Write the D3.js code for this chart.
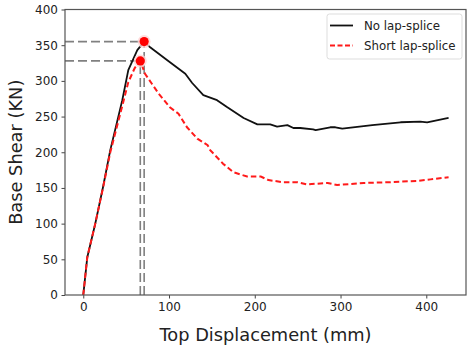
<!DOCTYPE html>
<html>
<head>
<meta charset="utf-8">
<script src="https://cdn.jsdelivr.net/npm/d3@7/dist/d3.min.js"></script>
<style>
  html, body { margin: 0; padding: 0; background: #fff; }
  svg { display: block; }
  text { font-family: "DejaVu Sans", sans-serif; }
</style>
</head>
<body>
<svg id="chart" width="472" height="350"></svg>
<script>
// Pushover curves: top displacement (mm) vs base shear (kN)
const noLapDisp  = [0, 4.7, 14, 23, 31.5, 45.5, 52.5, 63, 71, 78, 98, 119, 127, 140, 156, 168, 187, 203, 218, 226, 238, 245, 253, 268, 271, 288, 294, 302, 337, 370, 393, 401, 426];
const noLapShear = [0, 53, 100, 151, 203, 273, 315, 343, 355, 347, 329, 310, 297, 280, 273, 263, 248, 239, 239, 236, 238, 234, 234, 232, 231, 235, 235, 233, 238, 242, 243, 242, 248];

const shortDisp  = [0, 4.7, 14, 23, 31.5, 45.5, 52.5, 60, 66.5, 72, 80, 88, 101, 111, 121, 133, 145, 148, 163, 175, 191, 207, 216, 233, 250, 261, 285, 296, 327, 358, 390, 405, 426];
const shortShear = [0, 53, 100, 150, 200, 265, 298, 318, 328, 310, 296, 282, 263, 254, 235, 219, 210, 203, 184, 172, 166, 166, 161, 158, 158, 155, 157, 154, 157, 158, 160, 162, 165];

// Peak points highlighted with guide lines
const peakDisp  = [71, 66.5];
const peakShear = [355, 328];

const seriesNames = ["No lap-splice", "Short lap-splice"];
const xTicks = [0, 100, 200, 300, 400];
const yTicks = [0, 50, 100, 150, 200, 250, 300, 350, 400];

const svg = d3.select("#chart");
const m = { left: 65, right: 466, top: 9.5, bottom: 295 };

const x = d3.scaleLinear().domain([-21.3, 446.3]).range([m.left, m.right]);
const y = d3.scaleLinear().domain([0, 400]).range([m.bottom, m.top]);

const line = d3.line().x(d => x(d[0])).y(d => y(d[1]));

const plot = svg.append("g");

// guide lines to the peaks
const guide = plot.append("g")
  .attr("stroke", "#808080").attr("stroke-width", 1.6)
  .attr("stroke-dasharray", "9,4").attr("fill", "none");
peakDisp.forEach((d, i) => {
  guide.append("line")
    .attr("x1", x(-21.3)).attr("x2", x(d))
    .attr("y1", y(peakShear[i])).attr("y2", y(peakShear[i]));
  guide.append("line")
    .attr("x1", x(d)).attr("x2", x(d))
    .attr("y1", y(0)).attr("y2", y(peakShear[i]));
});

// curves
plot.append("path")
  .datum(noLapDisp.map((d, i) => [d, noLapShear[i]]))
  .attr("d", line).attr("fill", "none")
  .attr("stroke", "#111").attr("stroke-width", 1.8)
  .attr("stroke-linejoin", "round");

plot.append("path")
  .datum(shortDisp.map((d, i) => [d, shortShear[i]]))
  .attr("d", line).attr("fill", "none")
  .attr("stroke", "#ff1a1a").attr("stroke-width", 2)
  .attr("stroke-dasharray", "5.5,3");

// peak markers
peakDisp.forEach((d, i) => {
  plot.append("circle")
    .attr("cx", x(d)).attr("cy", y(peakShear[i])).attr("r", 6.5)
    .attr("fill", "#ffd6d6").attr("opacity", 0.8);
  plot.append("circle")
    .attr("cx", x(d)).attr("cy", y(peakShear[i])).attr("r", 4.6)
    .attr("fill", "#ff0000");
});

// axes
const xAxis = svg.append("g")
  .attr("transform", `translate(0,${m.bottom})`)
  .call(d3.axisBottom(x).tickValues(xTicks).tickSize(3.5).tickPadding(3.5));
const yAxis = svg.append("g")
  .attr("transform", `translate(${m.left},0)`)
  .call(d3.axisLeft(y).tickValues(yTicks).tickSize(3.5).tickPadding(3.5));

[xAxis, yAxis].forEach(a => {
  a.select(".domain").remove();
  a.selectAll(".tick line").attr("stroke", "#444");
  a.selectAll(".tick text").attr("fill", "#222")
    .style("font-size", "12px").style("font-family", "DejaVu Sans");
});

// frame
svg.append("rect")
  .attr("x", m.left).attr("y", m.top)
  .attr("width", m.right - m.left).attr("height", m.bottom - m.top)
  .attr("fill", "none").attr("stroke", "#555").attr("stroke-width", 1.2);

// axis titles
svg.append("text")
  .attr("x", (m.left + m.right) / 2).attr("y", 341)
  .attr("text-anchor", "middle").attr("fill", "#222")
  .style("font-size", "17.8px").text("Top Displacement (mm)");
svg.append("text")
  .attr("transform", `translate(22,${(m.top + m.bottom) / 2}) rotate(-90)`)
  .attr("text-anchor", "middle").attr("fill", "#222")
  .style("font-size", "17.8px").text("Base Shear (KN)");

// legend
const lg = svg.append("g").attr("transform", "translate(327,14)");
lg.append("rect").attr("width", 135).attr("height", 45).attr("rx", 2.5)
  .attr("fill", "#fff").attr("stroke", "#ddd").attr("stroke-width", 1);
const legendStyles = [
  { color: "#111", dash: null, w: 1.8 },
  { color: "#ff1a1a", dash: "5,2.5", w: 2 }
];
seriesNames.forEach((name, i) => {
  const yy = 11.5 + i * 20;
  lg.append("line").attr("x1", 3).attr("x2", 26).attr("y1", yy).attr("y2", yy)
    .attr("stroke", legendStyles[i].color).attr("stroke-width", legendStyles[i].w)
    .attr("stroke-dasharray", legendStyles[i].dash);
  lg.append("text").attr("x", 37).attr("y", yy + 4.2)
    .attr("fill", "#222").style("font-size", "11.8px").text(name);
});
</script>
</body>
</html>
